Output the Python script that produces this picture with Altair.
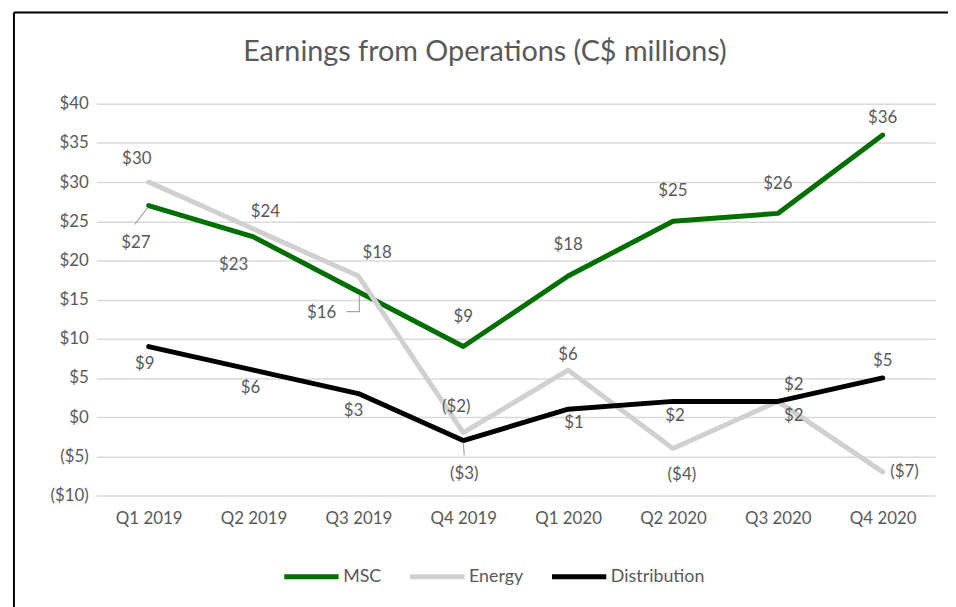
import altair as alt
import pandas as pd

# ---- data ----
quarters = ["Q1 2019", "Q2 2019", "Q3 2019", "Q4 2019",
            "Q1 2020", "Q2 2020", "Q3 2020", "Q4 2020"]
series_names = ["MSC", "Energy", "Distribution"]
msc = [27, 23, 16, 9, 18, 25, 26, 36]
energy = [30, 24, 18, -2, 6, -4, 2, -7]
distribution = [9, 6, 3, -3, 1, 2, 2, 5]
colors = ["#006F00", "#D0D0D0", "#000000"]

# label placement (pixel offsets of each data label from its point)
msc_label_dx = [-13, -20, -37, 0, 0, 0, 0, 0]
msc_label_dy = [38, 28, 21, -30, -31, -30, -30, -17]
energy_label_dx = [-12, 12, 19, -7, 0, 9, 16, 22]
energy_label_dy = [-23, -17, -23, -26, -15, 27, 15, 0]
dist_label_dx = [-4, -3, -5, 1, 6, 2, 16, 0]
dist_label_dy = [18, 18, 18, 34, 14, 15, -16, -17]

# leader lines (series, quarter, symbol path in pixels relative to the point)
leaders = [
    ("MSC", "Q1 2019", "M-1,2L-14,19"),
    ("MSC", "Q3 2019", "M1,3L1,20L-12,20"),
    ("Distribution", "Q4 2019", "M0,2L1,15"),
]


def fmt(v):
    return f"${v}" if v >= 0 else f"(${-v})"


rows = []
placements = []
for name, vals, dxs, dys in [
    ("MSC", msc, msc_label_dx, msc_label_dy),
    ("Energy", energy, energy_label_dx, energy_label_dy),
    ("Distribution", distribution, dist_label_dx, dist_label_dy),
]:
    for q, v, dx, dy in zip(quarters, vals, dxs, dys):
        rows.append({"quarter": q, "series": name, "value": v,
                     "label": fmt(v)})
        placements.append((name, q, dx, dy))
df = pd.DataFrame(rows)

FONT = "Lato"
GREY = "#595959"

x_enc = alt.X("quarter:N", sort=quarters, title=None,
              axis=alt.Axis(labelAngle=0, domain=False, ticks=False,
                            labelPadding=15, labelFontSize=17,
                            labelColor=GREY, labelFont=FONT, grid=False))
y_enc = alt.Y("value:Q", title=None,
              scale=alt.Scale(domain=[-10, 40], nice=False),
              axis=alt.Axis(values=list(range(-10, 41, 5)), domain=False,
                            ticks=False, labelPadding=8, labelFontSize=17,
                            labelColor=GREY, labelFont=FONT,
                            labelOverlap=False, tickCount=11,
                            gridColor="#D9D9D9", gridWidth=1.5,
                            labelExpr="datum.value < 0 ? '($' + abs(datum.value) + ')' : '$' + datum.value"))

color_enc = alt.Color("series:N",
                      scale=alt.Scale(domain=series_names, range=colors),
                      legend=alt.Legend(title=None, orient="none",
                                        direction="horizontal",
                                        legendX=187, legendY=447,
                                        symbolType="stroke",
                                        symbolSize=3000,
                                        symbolStrokeWidth=5,
                                        labelFontSize=18, labelColor=GREY,
                                        labelFont=FONT, labelOffset=2,
                                        columnPadding=18))

base = alt.Chart(df)

layers = []
for name in series_names:
    layers.append(
        base.transform_filter(alt.datum.series == name)
        .mark_line(strokeWidth=5, strokeCap="round", strokeJoin="round")
        .encode(x=x_enc, y=y_enc, color=color_enc)
    )

for name, q, path in leaders:
    layers.append(
        base.transform_filter((alt.datum.series == name) & (alt.datum.quarter == q))
        .mark_point(shape=path, size=4, filled=False, stroke="#A6A6A6",
                    strokeWidth=1.2, opacity=1)
        .encode(x=x_enc, y=y_enc)
    )

for name, q, dx, dy in placements:
    layers.append(
        base.transform_filter((alt.datum.series == name) & (alt.datum.quarter == q))
        .mark_text(fontSize=17, font=FONT, color=GREY, dx=dx, dy=dy,
                   baseline="middle")
        .encode(x=x_enc, y=y_enc, text="label:N")
    )

frame = alt.Chart(pd.DataFrame({"k": [0]})).mark_rule(
    color="#000000", strokeWidth=2).encode(
    x=alt.value(-83), x2=alt.value(-83), y=alt.value(-92), y2=alt.value(520))
frame_top = alt.Chart(pd.DataFrame({"k": [0]})).mark_rule(
    color="#000000", strokeWidth=2).encode(
    x=alt.value(-83), x2=alt.value(870), y=alt.value(-92), y2=alt.value(-92))
layers += [frame, frame_top]

chart = alt.layer(*layers).properties(
    width=846, height=395,
    background="white",
    autosize=alt.AutoSizeParams(type="none"),
    padding={"left": 89, "top": 94, "right": 13, "bottom": 110},
    title=alt.TitleParams("Earnings from Operations (C$ millions)",
                          fontSize=29, font=FONT, color=GREY,
                          fontWeight="normal", anchor="middle",
                          frame="group", dx=-31, offset=-56),
).configure_view(stroke=None)

chart.save("out.html", embed_options={"renderer": "svg", "actions": False})
